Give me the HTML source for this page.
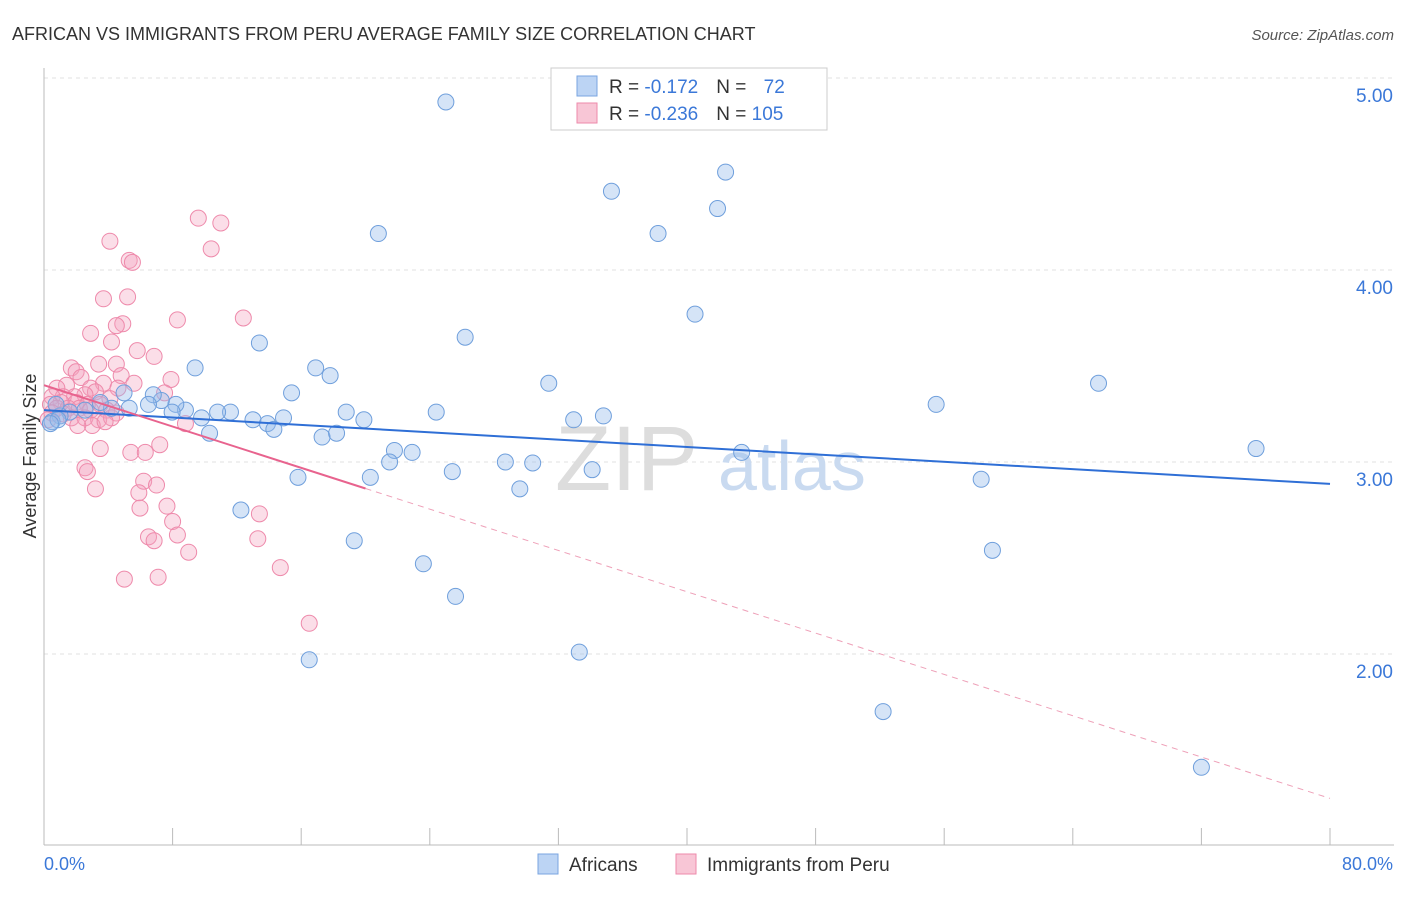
<!DOCTYPE html>
<html><head><meta charset="utf-8">
<style>
body{margin:0;background:#fff;font-family:"Liberation Sans",sans-serif;}
svg text{font-family:"Liberation Sans",sans-serif;}
</style></head>
<body>
<svg id="chart" width="1406" height="892" viewBox="0 0 1406 892">
<text x="12" y="40" font-size="18" fill="#333">AFRICAN VS IMMIGRANTS FROM PERU AVERAGE FAMILY SIZE CORRELATION CHART</text>
<text x="1394" y="40" font-size="15" fill="#555" font-style="italic" text-anchor="end">Source: ZipAtlas.com</text>
<g id="grid"></g>
<g>
<text x="555" y="490" font-size="92" fill="#ddd" font-family="Liberation Serif">ZIP</text>
<text x="718" y="490" font-size="70" fill="#c9daf0">atlas</text>
</g>
<g id="pts"></g>
<g id="lines"></g>
<text x="36" y="456" font-size="18" fill="#333" text-anchor="middle" transform="rotate(-90 36 456)">Average Family Size</text>
<text x="44" y="870" font-size="18" fill="#3b78d8">0.0%</text>
<text x="1393" y="870" font-size="18" fill="#3b78d8" text-anchor="end">80.0%</text>
<g>
<rect x="551" y="68" width="276" height="62" fill="#fff" stroke="#ccc"/>
<rect x="577" y="76" width="20" height="20" fill="#bcd4f4" stroke="#7aa5e0"/>
<rect x="577" y="103" width="20" height="20" fill="#f8c6d6" stroke="#ee8aab"/>
<text x="609" y="93" font-size="19" fill="#333">R = <tspan fill="#3b78d8">-0.172</tspan><tspan dx="18">N = </tspan><tspan dx="12" fill="#3b78d8">72</tspan></text>
<text x="609" y="120" font-size="19" fill="#333">R = <tspan fill="#3b78d8">-0.236</tspan><tspan dx="18">N = </tspan><tspan fill="#3b78d8">105</tspan></text>
</g>
<g>
<rect x="538" y="854" width="20" height="20" fill="#bcd4f4" stroke="#7aa5e0"/>
<text x="569" y="871" font-size="19" fill="#333">Africans</text>
<rect x="676" y="854" width="20" height="20" fill="#f8c6d6" stroke="#ee8aab"/>
<text x="707" y="871" font-size="19" fill="#333">Immigrants from Peru</text>
</g>
</svg>
<script>
const yTicks=[2,3,4,5];
const yTickLabels=["2.00","3.00","4.00","5.00"];
const xTicks=[0,8,16,24,32,40,48,56,64,72,80];
const africanX=[25.0,35.3,42.4,41.9,38.2,20.8,40.5,26.2,13.4,9.4,16.9,17.8,31.4,65.6,15.4,55.5,24.4,18.8,19.9,32.95,34.8,14.9,13.0,13.9,14.3,11.6,10.8,9.8,8.8,8.2,7.97,7.3,6.8,6.5,5.3,4.98,4.2,3.5,2.55,1.6,1.0,0.5,0.75,10.3,17.3,18.2,21.8,22.9,21.5,28.7,30.4,25.4,34.1,43.4,75.4,15.8,20.3,29.6,58.3,12.25,19.3,59.0,23.6,25.6,33.3,16.5,52.2,72.0,0.87,0.4];
const africanY=[4.875,4.41,4.51,4.32,4.19,4.19,3.77,3.65,3.62,3.49,3.49,3.45,3.41,3.41,3.36,3.30,3.26,3.26,3.22,3.22,3.24,3.23,3.22,3.20,3.17,3.26,3.26,3.23,3.27,3.30,3.26,3.32,3.35,3.30,3.28,3.36,3.28,3.31,3.27,3.26,3.24,3.21,3.30,3.15,3.13,3.15,3.06,3.05,3.00,3.00,2.995,2.95,2.96,3.05,3.07,2.92,2.92,2.86,2.91,2.75,2.59,2.54,2.47,2.30,2.01,1.97,1.70,1.41,3.22,3.20];
const peruX=[9.6,11.0,4.1,10.4,5.3,5.5,5.2,3.7,8.3,12.4,4.9,4.5,2.9,4.2,5.8,6.85,4.5,3.4,1.7,2.0,2.3,4.8,7.9,5.6,3.7,1.4,0.8,2.9,4.6,3.2,2.55,1.9,1.2,0.5,7.5,4.1,2.0,1.06,0.4,2.7,3.5,0.8,1.5,2.2,2.9,3.9,4.5,0.5,1.2,1.7,2.55,3.4,4.2,0.25,3.0,2.1,3.8,8.8,7.2,5.4,6.3,3.5,2.55,2.7,6.2,7.0,3.2,5.9,7.65,5.97,8.0,13.4,6.5,8.3,6.85,13.3,9.0,14.7,5.0,7.1,16.5];
const peruY=[4.27,4.245,4.15,4.11,4.05,4.04,3.86,3.85,3.74,3.75,3.72,3.71,3.67,3.625,3.58,3.55,3.51,3.51,3.49,3.47,3.44,3.45,3.43,3.41,3.41,3.40,3.385,3.385,3.385,3.365,3.35,3.34,3.34,3.34,3.36,3.33,3.31,3.31,3.30,3.30,3.30,3.28,3.28,3.28,3.27,3.27,3.255,3.255,3.25,3.23,3.23,3.22,3.23,3.22,3.19,3.19,3.21,3.20,3.09,3.05,3.05,3.07,2.97,2.95,2.90,2.88,2.86,2.84,2.77,2.76,2.69,2.73,2.61,2.62,2.59,2.60,2.53,2.45,2.39,2.40,2.16];
const blueLine=[3.27,-0.0048];
const pinkLine=[3.40,-0.0269];
const pinkSolidEnd=20;
const NS="http://www.w3.org/2000/svg";
const X=v=>44+v/80*1286;
const Y=v=>78+(5-v)*192;
function mk(t,a,p){const e=document.createElementNS(NS,t);for(const k in a)e.setAttribute(k,a[k]);p.appendChild(e);return e;}
const grid=document.getElementById('grid');
yTicks.forEach((t,i)=>{
 const l=mk('line',{x1:44,x2:1394,y1:Y(t),y2:Y(t),stroke:'#e2e2e2','stroke-dasharray':'4,4'},grid);
 
 
 const tx=mk('text',{x:1393,y:Y(t)+24,'font-size':19,fill:'#3b78d8','text-anchor':'end'},grid);
 tx.textContent=yTickLabels[i];
 
 
});
const ax=mk('line',{x1:44,x2:44,y1:68,y2:845,stroke:'#bbb'},grid);


const bx=mk('line',{x1:44,x2:1394,y1:845,y2:845,stroke:'#bbb'},grid);


xTicks.forEach(t=>{
 const l=mk('line',{x1:X(t),x2:X(t),y1:828,y2:845,stroke:'#bbb'},grid);
 
 
});
const pts=document.getElementById('pts');
peruX.forEach((x,i)=>{
 const c=mk('circle',{cx:X(x),cy:Y(peruY[i]),r:8,fill:'rgba(244,160,190,0.35)',stroke:'#ee8aab','stroke-width':1},pts);
 
 
});
africanX.forEach((x,i)=>{
 const c=mk('circle',{cx:X(x),cy:Y(africanY[i]),r:8,fill:'rgba(150,188,236,0.4)',stroke:'#6f9fdc','stroke-width':1},pts);
 
 
});
const lines=document.getElementById('lines');
const b=mk('line',{x1:X(0),y1:Y(blueLine[0]),x2:X(80),y2:Y(blueLine[0]+blueLine[1]*80),stroke:'#2f6fd6','stroke-width':2},lines);


const p1=mk('line',{x1:X(0),y1:Y(pinkLine[0]),x2:X(pinkSolidEnd),y2:Y(pinkLine[0]+pinkLine[1]*pinkSolidEnd),stroke:'#e8638e','stroke-width':2},lines);


const p2=mk('line',{x1:X(pinkSolidEnd),y1:Y(pinkLine[0]+pinkLine[1]*pinkSolidEnd),x2:X(80),y2:Y(pinkLine[0]+pinkLine[1]*80),stroke:'#eea0b8','stroke-width':1,'stroke-dasharray':'6,5'},lines);


</script>
</body></html>
